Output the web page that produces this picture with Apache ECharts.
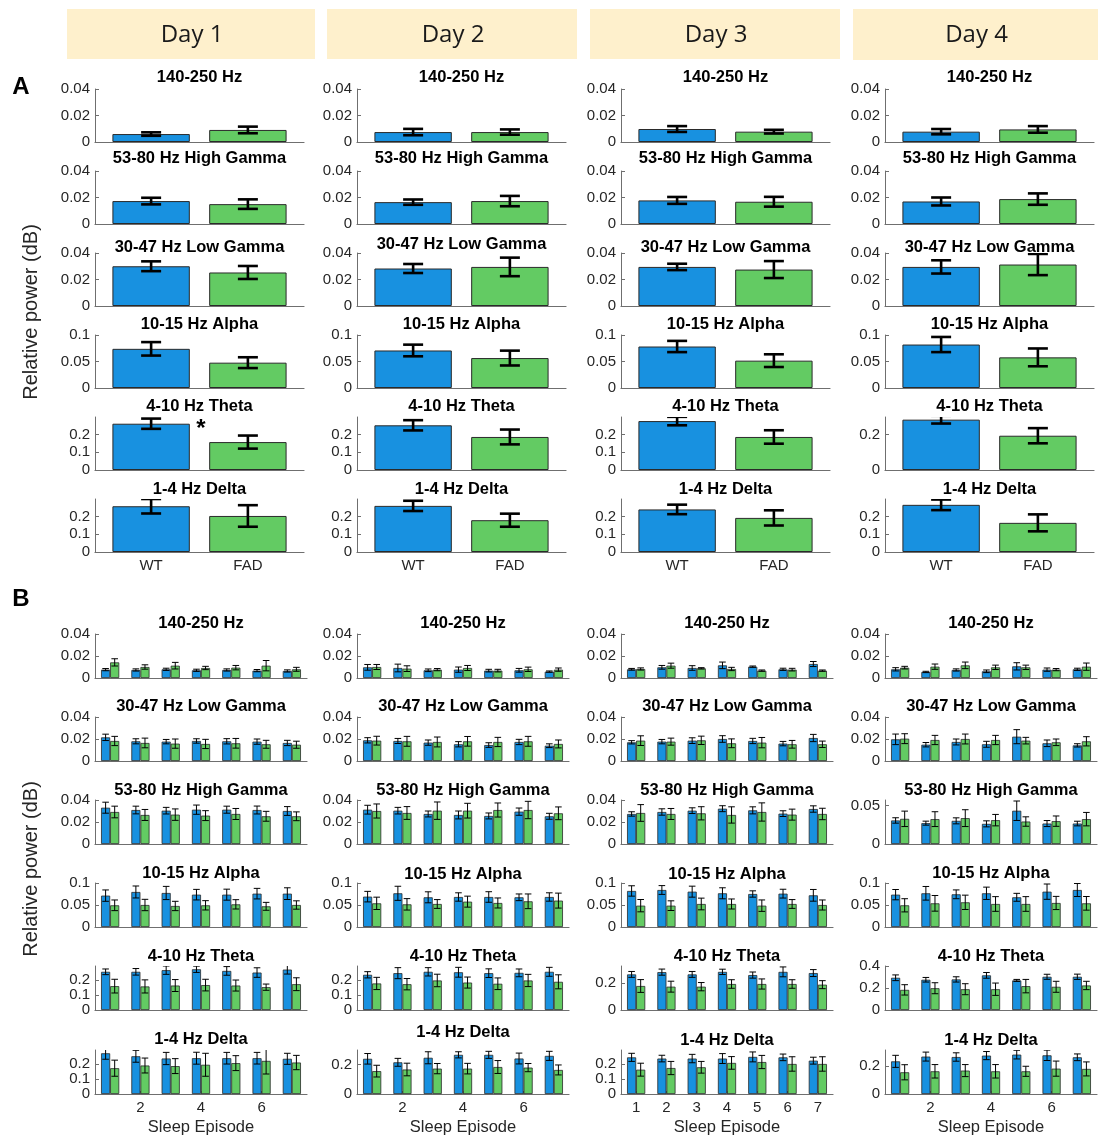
<!DOCTYPE html>
<html>
<head>
<meta charset="utf-8">
<script src="https://cdn.jsdelivr.net/npm/echarts@6/dist/echarts.min.js"></script>
<style>
  html, body { margin: 0; padding: 0; background: #ffffff; }
  #chart { width: 1098px; height: 1138px; }
</style>
</head>
<body>
<div id="chart"></div>
<script>
// ---------------- data ----------------
const days = ['Day 1', 'Day 2', 'Day 3', 'Day 4'];
const groupsA = ['WT', 'FAD'];
const episodes = ['1', '2', '3', '4', '5', '6', '7'];

const bandsA = ['140-250 Hz', '53-80 Hz High Gamma', '30-47 Hz Low Gamma', '10-15 Hz Alpha', '4-10 Hz Theta', '1-4 Hz Delta'];
const bandsB = ['140-250 Hz', '30-47 Hz Low Gamma', '53-80 Hz High Gamma', '10-15 Hz Alpha', '4-10 Hz Theta', '1-4 Hz Delta'];

// Panel A: daily averages, rows = bandsA, columns = days
const wtMeanA = [
  [0.0060, 0.0075, 0.0098, 0.0078],
  [0.0173, 0.0165, 0.0178, 0.0170],
  [0.0300, 0.0283, 0.0295, 0.0295],
  [0.0739, 0.0708, 0.0783, 0.0820],
  [0.262, 0.253, 0.277, 0.285],
  [0.259, 0.261, 0.241, 0.267]
];
const wtErrA = [
  [0.0013, 0.0024, 0.0022, 0.0020],
  [0.0025, 0.0020, 0.0026, 0.0030],
  [0.0037, 0.0034, 0.0024, 0.0050],
  [0.0127, 0.0110, 0.0106, 0.0143],
  [0.029, 0.029, 0.024, 0.022],
  [0.041, 0.029, 0.027, 0.030]
];
const fadMeanA = [
  [0.0091, 0.0075, 0.0078, 0.0095],
  [0.0150, 0.0173, 0.0168, 0.0188],
  [0.0253, 0.0295, 0.0275, 0.0313],
  [0.0478, 0.0565, 0.0516, 0.0578],
  [0.158, 0.187, 0.187, 0.194],
  [0.204, 0.180, 0.193, 0.165]
];
const fadErrA = [
  [0.0025, 0.0020, 0.0014, 0.0025],
  [0.0036, 0.0039, 0.0037, 0.0043],
  [0.0049, 0.0070, 0.0064, 0.0080],
  [0.0102, 0.0140, 0.0120, 0.0168],
  [0.037, 0.042, 0.038, 0.043],
  [0.061, 0.037, 0.043, 0.048]
];

// Panel B: per sleep episode, rows = days, columns = episodes 1..7
const hfoWT = [
  [0.0076, 0.0073, 0.0079, 0.0070, 0.0073, 0.0067, 0.0064],
  [0.0097, 0.0091, 0.0070, 0.0076, 0.0067, 0.0070, 0.0058],
  [0.0079, 0.0097, 0.0091, 0.0115, 0.0103, 0.0079, 0.0127],
  [0.0079, 0.0055, 0.0073, 0.0061, 0.0106, 0.0076, 0.0079]
];
const hfoWTErr = [
  [0.0010, 0.0010, 0.0010, 0.0010, 0.0010, 0.0010, 0.0010],
  [0.0026, 0.0035, 0.0012, 0.0024, 0.0012, 0.0017, 0.0006],
  [0.0008, 0.0017, 0.0021, 0.0030, 0.0006, 0.0010, 0.0023],
  [0.0015, 0.0006, 0.0010, 0.0012, 0.0033, 0.0015, 0.0010]
];
const hfoFAD = [
  [0.0142, 0.0100, 0.0112, 0.0091, 0.0094, 0.0112, 0.0079],
  [0.0100, 0.0085, 0.0076, 0.0091, 0.0067, 0.0079, 0.0076],
  [0.0082, 0.0112, 0.0088, 0.0082, 0.0067, 0.0076, 0.0067],
  [0.0094, 0.0103, 0.0115, 0.0097, 0.0097, 0.0076, 0.0103]
];
const hfoFADErr = [
  [0.0033, 0.0020, 0.0030, 0.0015, 0.0020, 0.0047, 0.0018],
  [0.0023, 0.0026, 0.0010, 0.0023, 0.0012, 0.0020, 0.0015],
  [0.0010, 0.0023, 0.0006, 0.0015, 0.0006, 0.0012, 0.0006],
  [0.0012, 0.0024, 0.0030, 0.0020, 0.0020, 0.0010, 0.0033]
];

const lowGammaWT = [
  [0.0215, 0.0179, 0.0176, 0.0182, 0.0179, 0.0176, 0.0164],
  [0.0188, 0.0182, 0.0167, 0.0152, 0.0145, 0.0173, 0.0139],
  [0.0170, 0.0176, 0.0185, 0.0200, 0.0182, 0.0158, 0.0209],
  [0.0197, 0.0148, 0.0173, 0.0152, 0.0221, 0.0161, 0.0142]
];
const lowGammaWTErr = [
  [0.0029, 0.0023, 0.0020, 0.0020, 0.0024, 0.0024, 0.0024],
  [0.0024, 0.0023, 0.0024, 0.0024, 0.0021, 0.0024, 0.0017],
  [0.0015, 0.0020, 0.0026, 0.0030, 0.0024, 0.0020, 0.0033],
  [0.0048, 0.0020, 0.0027, 0.0027, 0.0064, 0.0030, 0.0015]
];
const lowGammaFAD = [
  [0.0182, 0.0164, 0.0158, 0.0155, 0.0161, 0.0152, 0.0148],
  [0.0185, 0.0179, 0.0173, 0.0179, 0.0173, 0.0179, 0.0155],
  [0.0185, 0.0176, 0.0188, 0.0161, 0.0167, 0.0152, 0.0152],
  [0.0203, 0.0191, 0.0200, 0.0191, 0.0185, 0.0170, 0.0179]
];
const lowGammaFADErr = [
  [0.0042, 0.0044, 0.0042, 0.0042, 0.0044, 0.0036, 0.0032],
  [0.0040, 0.0045, 0.0045, 0.0044, 0.0042, 0.0045, 0.0036],
  [0.0044, 0.0032, 0.0038, 0.0040, 0.0047, 0.0035, 0.0029],
  [0.0045, 0.0042, 0.0045, 0.0042, 0.0030, 0.0030, 0.0042]
];

const highGammaWT = [
  [0.0330, 0.0309, 0.0303, 0.0312, 0.0312, 0.0309, 0.0300],
  [0.0312, 0.0303, 0.0273, 0.0264, 0.0255, 0.0294, 0.0252],
  [0.0273, 0.0291, 0.0303, 0.0321, 0.0306, 0.0276, 0.0318],
  [0.0305, 0.0270, 0.0300, 0.0261, 0.0431, 0.0265, 0.0265]
];
const highGammaWTErr = [
  [0.0050, 0.0035, 0.0030, 0.0042, 0.0032, 0.0036, 0.0040],
  [0.0040, 0.0030, 0.0027, 0.0036, 0.0027, 0.0033, 0.0027],
  [0.0020, 0.0029, 0.0026, 0.0027, 0.0032, 0.0026, 0.0029],
  [0.0035, 0.0026, 0.0039, 0.0039, 0.0126, 0.0039, 0.0030]
];
const highGammaFAD = [
  [0.0291, 0.0264, 0.0267, 0.0258, 0.0273, 0.0252, 0.0252],
  [0.0300, 0.0282, 0.0303, 0.0303, 0.0309, 0.0309, 0.0279],
  [0.0282, 0.0273, 0.0279, 0.0264, 0.0291, 0.0267, 0.0273],
  [0.0326, 0.0322, 0.0335, 0.0309, 0.0291, 0.0296, 0.0322]
];
const highGammaFADErr = [
  [0.0053, 0.0050, 0.0052, 0.0045, 0.0050, 0.0045, 0.0040],
  [0.0064, 0.0058, 0.0079, 0.0067, 0.0064, 0.0079, 0.0058],
  [0.0076, 0.0050, 0.0060, 0.0074, 0.0083, 0.0050, 0.0052],
  [0.0100, 0.0096, 0.0109, 0.0074, 0.0061, 0.0067, 0.0087]
];

const alphaWT = [
  [0.0713, 0.0796, 0.0773, 0.0735, 0.0735, 0.0758, 0.0758],
  [0.0690, 0.0766, 0.0675, 0.0682, 0.0682, 0.0675, 0.0682],
  [0.0819, 0.0841, 0.0803, 0.0766, 0.0750, 0.0758, 0.0720],
  [0.0735, 0.0766, 0.0743, 0.0766, 0.0675, 0.0803, 0.0841]
];
const alphaWTErr = [
  [0.0129, 0.0136, 0.0150, 0.0120, 0.0125, 0.0120, 0.0133],
  [0.0120, 0.0160, 0.0125, 0.0095, 0.0120, 0.0076, 0.0095],
  [0.0118, 0.0100, 0.0125, 0.0125, 0.0072, 0.0100, 0.0133],
  [0.0117, 0.0155, 0.0100, 0.0140, 0.0090, 0.0174, 0.0148]
];
const alphaFAD = [
  [0.0493, 0.0500, 0.0478, 0.0493, 0.0515, 0.0470, 0.0500],
  [0.0538, 0.0515, 0.0523, 0.0576, 0.0546, 0.0584, 0.0600],
  [0.0485, 0.0485, 0.0523, 0.0523, 0.0485, 0.0523, 0.0500],
  [0.0493, 0.0538, 0.0561, 0.0523, 0.0523, 0.0546, 0.0538]
];
const alphaFADErr = [
  [0.0121, 0.0129, 0.0106, 0.0106, 0.0106, 0.0090, 0.0095],
  [0.0140, 0.0130, 0.0100, 0.0125, 0.0114, 0.0167, 0.0170],
  [0.0140, 0.0110, 0.0133, 0.0114, 0.0130, 0.0100, 0.0114],
  [0.0150, 0.0178, 0.0163, 0.0167, 0.0167, 0.0150, 0.0155]
];

const thetaWT = [
  [0.256, 0.256, 0.267, 0.273, 0.262, 0.251, 0.271],
  [0.236, 0.247, 0.256, 0.253, 0.247, 0.249, 0.256],
  [0.267, 0.284, 0.267, 0.286, 0.262, 0.286, 0.277],
  [0.293, 0.275, 0.278, 0.315, 0.269, 0.302, 0.302]
];
const thetaWTErr = [
  [0.019, 0.022, 0.028, 0.021, 0.029, 0.032, 0.030],
  [0.021, 0.037, 0.028, 0.033, 0.029, 0.026, 0.030],
  [0.022, 0.023, 0.022, 0.020, 0.023, 0.037, 0.026],
  [0.026, 0.021, 0.024, 0.026, 0.009, 0.023, 0.024]
];
const thetaFAD = [
  [0.160, 0.158, 0.164, 0.167, 0.164, 0.153, 0.173],
  [0.178, 0.173, 0.198, 0.184, 0.176, 0.198, 0.189],
  [0.180, 0.175, 0.175, 0.195, 0.195, 0.195, 0.190],
  [0.183, 0.198, 0.189, 0.189, 0.217, 0.211, 0.223]
];
const thetaFADErr = [
  [0.046, 0.044, 0.040, 0.039, 0.037, 0.021, 0.043],
  [0.041, 0.038, 0.042, 0.037, 0.039, 0.041, 0.047],
  [0.048, 0.041, 0.031, 0.032, 0.038, 0.032, 0.030],
  [0.047, 0.050, 0.050, 0.056, 0.061, 0.050, 0.038]
];

const deltaWT = [
  [0.273, 0.253, 0.238, 0.240, 0.240, 0.240, 0.236],
  [0.240, 0.216, 0.247, 0.267, 0.267, 0.242, 0.260],
  [0.244, 0.236, 0.236, 0.236, 0.247, 0.244, 0.222],
  [0.233, 0.267, 0.264, 0.274, 0.281, 0.276, 0.262]
];
const deltaWTErr = [
  [0.040, 0.040, 0.041, 0.040, 0.039, 0.039, 0.037],
  [0.036, 0.027, 0.041, 0.021, 0.024, 0.037, 0.031],
  [0.027, 0.022, 0.028, 0.033, 0.033, 0.022, 0.023],
  [0.043, 0.032, 0.030, 0.029, 0.031, 0.037, 0.024]
];
const deltaFAD = [
  [0.173, 0.191, 0.187, 0.196, 0.207, 0.222, 0.211],
  [0.156, 0.167, 0.173, 0.173, 0.184, 0.180, 0.164],
  [0.162, 0.173, 0.178, 0.207, 0.213, 0.200, 0.200],
  [0.155, 0.162, 0.167, 0.162, 0.162, 0.181, 0.179]
];
const deltaFADErr = [
  [0.054, 0.050, 0.050, 0.077, 0.050, 0.088, 0.048],
  [0.040, 0.043, 0.035, 0.036, 0.044, 0.028, 0.034],
  [0.043, 0.044, 0.039, 0.042, 0.044, 0.048, 0.048],
  [0.054, 0.048, 0.043, 0.048, 0.036, 0.054, 0.050]
];

// tick label sets
const T04 = [0, 0.02, 0.04];
const T10 = [0, 0.05, 0.1];
const T3 = [0, 0.1, 0.2];
const T2 = [0, 0.2];
const T4 = [0, 0.2, 0.4];
const T05 = [0, 0.05];

const yTicksA = [
  [T04, T04, T04, T04],
  [T04, T04, T04, T04],
  [T04, T04, T04, T04],
  [T10, T10, T10, T10],
  [T3, T3, T3, T2],
  [T3, T3, T3, T3]
];
const yMaxA = [
  [0.04, 0.04, 0.04, 0.04],
  [0.04, 0.04, 0.04, 0.04],
  [0.04, 0.04, 0.04, 0.04],
  [0.1, 0.1, 0.1, 0.1],
  [0.3, 0.3, 0.3, 0.3],
  [0.3, 0.3, 0.3, 0.3]
];
const yTicksB = [
  [T04, T04, T04, T04],
  [T04, T04, T04, T04],
  [T04, T04, T04, T05],
  [T10, T10, T10, T10],
  [T3, T3, T2, T4],
  [T3, T2, T3, T2]
];
const yMaxB = [
  [0.04, 0.04, 0.04, 0.04],
  [0.04, 0.04, 0.04, 0.04],
  [0.04, 0.04, 0.04, 0.057],
  [0.1, 0.1, 0.1, 0.1],
  [0.295, 0.295, 0.33, 0.4],
  [0.295, 0.3, 0.293, 0.314]
];
const xTicksB = [
  [2, 4, 6],
  [2, 4, 6],
  [1, 2, 3, 4, 5, 6, 7],
  [2, 4, 6]
];

// episode series grouped per band, in panel B row order
const panelB = [
  { wt: hfoWT, wtErr: hfoWTErr, fad: hfoFAD, fadErr: hfoFADErr },
  { wt: lowGammaWT, wtErr: lowGammaWTErr, fad: lowGammaFAD, fadErr: lowGammaFADErr },
  { wt: highGammaWT, wtErr: highGammaWTErr, fad: highGammaFAD, fadErr: highGammaFADErr },
  { wt: alphaWT, wtErr: alphaWTErr, fad: alphaFAD, fadErr: alphaFADErr },
  { wt: thetaWT, wtErr: thetaWTErr, fad: thetaFAD, fadErr: thetaFADErr },
  { wt: deltaWT, wtErr: deltaWTErr, fad: deltaFAD, fadErr: deltaFADErr }
];

// ---------------- layout & style ----------------
const BLUE = '#1891E0';
const GREEN = '#63CB63';
const EDGE = '#2a2a2a';
const AXIS = '#6f6f6f';
const TXT = '#262626';
const FONT = '"Liberation Sans", Arial, Helvetica, sans-serif';

const colLeft = [95, 357, 621, 885];
const widthA = 209, widthB = 212;
const rowTopA = [89, 171, 253, 335, 417, 499], heightA = 53;
const rowTopB = [634, 717, 800, 883, 966, 1050], heightB = 44;
const titleYA = [
  [77.5, 77.5, 77.5, 77.5],
  [158.5, 158.5, 158.5, 158.5],
  [247.5, 244, 247.5, 247.5],
  [324.5, 324.5, 324.5, 324.5],
  [406.5, 406.5, 406.5, 406.5],
  [489, 489, 489, 489]
];
const titleYB = [
  [623, 623, 623, 623],
  [706, 706, 706.5, 706],
  [790, 790.5, 790.5, 790],
  [873.5, 874, 874, 873.5],
  [956.5, 956.5, 956.5, 956.5],
  [1039.5, 1032, 1040, 1040]
];

function fmt(v) { return String(+Number(v).toFixed(3)); }

function errorBars(offsetFrac, capHalf, lineWidth) {
  return function (params, api) {
    const x = api.value(0), m = api.value(1), e = api.value(2);
    const band = api.size([1, 0])[0];
    const cx = api.coord([x, m])[0] + offsetFrac * band;
    const yTop = api.coord([x, m + e])[1];
    const yBot = api.coord([x, m - e])[1];
    const st = { stroke: '#000', lineWidth: lineWidth };
    return {
      type: 'group',
      children: [
        { type: 'line', shape: { x1: cx, y1: yTop, x2: cx, y2: yBot }, style: st },
        { type: 'line', shape: { x1: cx - capHalf, y1: yTop, x2: cx + capHalf, y2: yTop }, style: st },
        { type: 'line', shape: { x1: cx - capHalf, y1: yBot, x2: cx + capHalf, y2: yBot }, style: st }
      ]
    };
  };
}

function yAxisFor(idx, max, ticks) {
  return {
    gridIndex: idx, type: 'value', min: 0, max: max,
    axisLine: { show: true, lineStyle: { color: AXIS, width: 1 } },
    axisTick: { show: true, inside: true, length: 4, customValues: ticks, lineStyle: { color: AXIS } },
    axisLabel: { show: true, customValues: ticks, formatter: fmt, margin: 5,
      hideOverlap: false, showMinLabel: true, showMaxLabel: true,
      color: TXT, fontSize: 15, fontFamily: FONT },
    splitLine: { show: false }
  };
}

const grids = [], xAxes = [], yAxes = [], series = [], graphics = [];

// Panel A cells
for (let r = 0; r < bandsA.length; r++) {
  for (let d = 0; d < days.length; d++) {
    const idx = grids.length;
    const last = r === bandsA.length - 1;
    grids.push({ left: colLeft[d], top: rowTopA[r], width: widthA, height: heightA,
      containLabel: false, outerBoundsMode: 'none' });
    xAxes.push({
      gridIndex: idx, type: 'value', min: 0.42, max: 2.58,
      axisLine: { show: true, onZero: false, lineStyle: { color: AXIS, width: 1.2 } },
      axisTick: { show: last, inside: true, length: 3, customValues: [1, 2], lineStyle: { color: AXIS } },
      axisLabel: { show: last, customValues: [1, 2], formatter: v => groupsA[Math.round(v) - 1],
        hideOverlap: false, showMinLabel: true, showMaxLabel: true,
        margin: 6, color: TXT, fontSize: 15, fontFamily: FONT },
      splitLine: { show: false }
    });
    yAxes.push(yAxisFor(idx, yMaxA[r][d], yTicksA[r][d]));
    series.push({
      type: 'bar', xAxisIndex: idx, yAxisIndex: idx, barWidth: '80%', silent: true,
      itemStyle: { borderColor: EDGE, borderWidth: 1 },
      data: [
        { value: [1, wtMeanA[r][d]], itemStyle: { color: BLUE } },
        { value: [2, fadMeanA[r][d]], itemStyle: { color: GREEN } }
      ]
    });
    series.push({
      type: 'custom', xAxisIndex: idx, yAxisIndex: idx, clip: true, silent: true, z: 5,
      encode: { x: 0, y: 1 },
      renderItem: errorBars(0, 10, 2.6),
      data: [[1, wtMeanA[r][d], wtErrA[r][d]], [2, fadMeanA[r][d], fadErrA[r][d]]]
    });
    graphics.push({ type: 'text', x: colLeft[d] + widthA / 2, y: titleYA[r][d], z: 10,
      style: { text: bandsA[r], fontSize: 16.5, fontWeight: 'bold', fontFamily: FONT,
        fill: '#000', align: 'center', verticalAlign: 'middle' } });
  }
}

// Panel B cells
for (let r = 0; r < bandsB.length; r++) {
  for (let d = 0; d < days.length; d++) {
    const idx = grids.length;
    const last = r === bandsB.length - 1;
    const shown = xTicksB[d];
    const pick = (i) => shown.indexOf(i + 1) >= 0;
    const rec = panelB[r];
    grids.push({ left: colLeft[d], top: rowTopB[r], width: widthB, height: heightB,
      containLabel: false, outerBoundsMode: 'none' });
    xAxes.push({
      gridIndex: idx, type: 'category', data: episodes, boundaryGap: true,
      axisLine: { show: true, onZero: false, lineStyle: { color: AXIS, width: 1.2 } },
      axisTick: { show: last, inside: true, length: 3, alignWithLabel: true, interval: pick,
        lineStyle: { color: AXIS } },
      axisLabel: { show: last, interval: pick, margin: 6, hideOverlap: false,
        color: TXT, fontSize: 15, fontFamily: FONT },
      splitLine: { show: false }
    });
    yAxes.push(yAxisFor(idx, yMaxB[r][d], yTicksB[r][d]));
    series.push({
      type: 'bar', xAxisIndex: idx, yAxisIndex: idx, barWidth: '30%', barGap: '0%', silent: true,
      itemStyle: { color: BLUE, borderColor: EDGE, borderWidth: 0.8 },
      data: rec.wt[d]
    });
    series.push({
      type: 'bar', xAxisIndex: idx, yAxisIndex: idx, barWidth: '30%', barGap: '0%', silent: true,
      itemStyle: { color: GREEN, borderColor: EDGE, borderWidth: 0.8 },
      data: rec.fad[d]
    });
    series.push({
      type: 'custom', xAxisIndex: idx, yAxisIndex: idx, clip: true, silent: true, z: 5,
      encode: { x: 0, y: 1 },
      renderItem: errorBars(-0.15, 3.3, 1),
      data: rec.wt[d].map((m, i) => [i, m, rec.wtErr[d][i]])
    });
    series.push({
      type: 'custom', xAxisIndex: idx, yAxisIndex: idx, clip: true, silent: true, z: 5,
      encode: { x: 0, y: 1 },
      renderItem: errorBars(0.15, 3.3, 1),
      data: rec.fad[d].map((m, i) => [i, m, rec.fadErr[d][i]])
    });
    graphics.push({ type: 'text', x: colLeft[d] + widthB / 2, y: titleYB[r][d], z: 10,
      style: { text: bandsB[r], fontSize: 16.5, fontWeight: 'bold', fontFamily: FONT,
        fill: '#000', align: 'center', verticalAlign: 'middle' } });
    if (last) {
      graphics.push({ type: 'text', x: colLeft[d] + widthB / 2, y: 1127, z: 10,
        style: { text: 'Sleep Episode', fontSize: 16.5, fontFamily: FONT,
          fill: TXT, align: 'center', verticalAlign: 'middle' } });
    }
  }
}

// day headers
const headerBoxes = [[67, 9, 248, 50], [327, 9, 250, 50], [590, 9, 250, 50], [853, 9, 245, 51]];
days.forEach((name, d) => {
  const b = headerBoxes[d];
  graphics.push({ type: 'rect', shape: { x: b[0], y: b[1], width: b[2], height: b[3] },
    style: { fill: '#FEF0CC' }, z: 1 });
  graphics.push({ type: 'text', x: b[0] + b[2] / 2 + 1, y: 35, z: 2,
    style: { text: name, fontSize: 24, fontFamily: '"Open Sans", "Noto Sans", sans-serif',
      fill: '#1a1a1a', align: 'center', verticalAlign: 'middle' } });
});

// panel letters, shared y labels, significance mark
graphics.push({ type: 'text', x: 21, y: 87, style: { text: 'A', fontSize: 24, fontWeight: 'bold',
  fontFamily: FONT, fill: '#000', align: 'center', verticalAlign: 'middle' } });
graphics.push({ type: 'text', x: 21, y: 599, style: { text: 'B', fontSize: 24, fontWeight: 'bold',
  fontFamily: FONT, fill: '#000', align: 'center', verticalAlign: 'middle' } });
[312, 869].forEach(cy => {
  graphics.push({ type: 'text', x: 31, y: cy, rotation: Math.PI / 2,
    style: { text: 'Relative power (dB)', fontSize: 20, fontFamily: FONT, fill: TXT,
      align: 'center', verticalAlign: 'middle' } });
});
graphics.push({ type: 'text', x: 201, y: 429, z: 10, style: { text: '*', fontSize: 24, fontWeight: 'bold',
  fontFamily: FONT, fill: '#000', align: 'center', verticalAlign: 'middle' } });

const chart = echarts.init(document.getElementById('chart'), null, { renderer: 'canvas' });
chart.setOption({
  animation: false,
  backgroundColor: '#ffffff',
  grid: grids,
  xAxis: xAxes,
  yAxis: yAxes,
  series: series,
  graphic: graphics
});
</script>
</body>
</html>
